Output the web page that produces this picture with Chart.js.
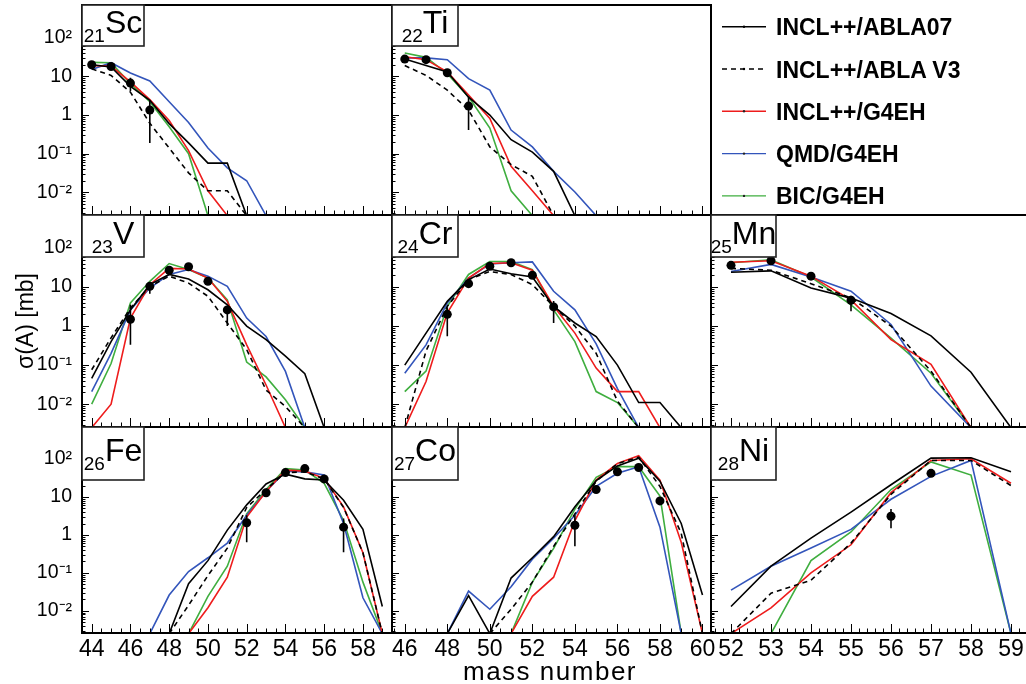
<!DOCTYPE html>
<html>
<head>
<meta charset="utf-8">
<title>Isotopic cross sections</title>
<script src="https://cdn.jsdelivr.net/npm/chart.js@4.4.1/dist/chart.umd.min.js"></script>
<style>
  body { margin: 0; width: 1026px; height: 684px; overflow: hidden; background: #fff; position: relative; }
  canvas { position: absolute; left: 0; top: -40px; }
  #overlay { position: absolute; left: 0; top: 0; pointer-events: none; }
</style>
</head>
<body>
<svg id="overlay" width="1026" height="684" xmlns="http://www.w3.org/2000/svg"></svg>
<script>
// model names (legend order)
const modelNames = ['INCL++/ABLA07', 'INCL++/ABLA V3', 'INCL++/G4EH', 'QMD/G4EH', 'BIC/G4EH'];

// axis ticks
const yTickValues = [0.01, 0.1, 1, 10, 100];
const yTickLabels = ['10⁻²', '10⁻¹', '1', '10', '10²'];
const xTicksCol1 = [44, 46, 48, 50, 52, 54, 56, 58];
const xTicksCol2 = [46, 48, 50, 52, 54, 56, 58, 60];
const xTicksCol3 = [52, 53, 54, 55, 56, 57, 58, 59];

// 21Sc
const scMass    = [44, 45, 46, 47, 48, 49, 50, 51, 52, 53];
const scAbla07  = [20, 17.5, 5.5, 2.4, 0.6, 0.19, 0.057, 0.057, 0.0025, null];
const scAblaV3  = [15.7, 10.6, 3.9, 0.61, 0.14, 0.032, 0.011, 0.011, 0.0025, null];
const scInclG4  = [19, 18.5, 7.2, 2.5, 0.72, 0.12, 0.011, 0.0025, null, null];
const scQmdG4   = [15, 22.5, 12.2, 7.6, 2.2, 0.64, 0.14, 0.043, 0.02, 0.0025];
const scBicG4   = [23, 22.5, 6.5, 2.2, 0.5, 0.1, 0.0025, null, null, null];
const scExpMass = [44, 45, 46, 47];
const scExp     = [20, 18, 6.7, 1.34];
const scExpLo   = [null, null, 4.2, 0.19];
const scExpHi   = [null, null, 9.2, 2.4];

// 22Ti
const tiMass    = [46, 47, 48, 49, 50, 51, 52, 53, 54, 55];
const tiAbla07  = [28, 19, 13, 2.9, 1.0, 0.23, 0.11, 0.035, 0.0025, null];
const tiAblaV3  = [19, 10.6, 4.4, 1.34, 0.15, 0.052, 0.026, 0.0025, null, null];
const tiInclG4  = [32, 27, 13, 3.3, 0.82, 0.047, 0.011, 0.0025, null, null];
const tiQmdG4   = [30, 30, 27, 8.7, 4.4, 0.41, 0.15, 0.035, 0.0102, 0.0025];
const tiBicG4   = [40, 31, 11.7, 2.95, 0.46, 0.011, 0.0025, null, null, null];
const tiExpMass = [46, 47, 48, 49];
const tiExp     = [28, 27, 12.4, 1.7];
const tiExpLo   = [null, null, null, 0.41];
const tiExpHi   = [null, null, null, 3.0];

// 23V
const vMass     = [44, 45, 46, 47, 48, 49, 50, 51, 52, 53, 54, 55, 56];
const vAbla07   = [0.046, 0.4, 2.6, 11.5, 21, 16, 8.5, 3.5, 1.0, 0.45, 0.17, 0.06, 0.0025];
const vAblaV3   = [0.076, 0.5, 2.9, 10.4, 19, 12.6, 5.8, 1.2, 0.25, 0.023, 0.0087, 0.0025, null];
const vInclG4   = [0.0025, 0.01, 1.6, 11.5, 30, 29, 17, 4.3, 0.33, 0.031, 0.0025, null, null];
const vQmdG4    = [0.021, 0.2, 2.6, 9.4, 21, 28, 19, 10.4, 1.6, 0.54, 0.069, 0.0025, null];
const vBicG4    = [0.01, 0.11, 3.9, 14, 40, 28, 17, 4.7, 0.12, 0.05, 0.013, 0.0025, null];
const vExpMass  = [46, 47, 48, 49, 50, 51];
const vExp      = [1.5, 10.4, 27, 33, 14, 2.6];
const vExpLo    = [0.33, 6.7, null, null, null, 1.0];
const vExpHi    = [3.5, 12.9, null, null, null, 3.3];

// 24Cr
const crMass    = [46, 47, 48, 49, 50, 51, 52, 53, 54, 55, 56, 57, 58, 59];
const crAbla07  = [0.1, 0.66, 4.3, 15.5, 29, 22, 18, 3.2, 1.2, 0.54, 0.1, 0.011, 0.011, 0.0025];
const crAblaV3  = [0.0025, 0.23, 3.2, 15.5, 25, 21, 11.5, 3.2, 1.0, 0.2, 0.012, 0.0025, null, null];
const crInclG4  = [0.0025, 0.038, 2.2, 17, 40, 42, 27, 3.2, 0.66, 0.084, 0.021, 0.021, 0.0025, null];
const crQmdG4   = [0.062, 0.33, 3.9, 17, 39, 42, 44, 7.8, 2.6, 0.35, 0.025, 0.0025, null, null];
const crBicG4   = [0.021, 0.07, 3.2, 21, 45, 45, 28, 2.6, 0.4, 0.021, 0.011, 0.0025, null, null];
const crExpMass = [48, 49, 50, 51, 52, 53];
const crExp     = [2.0, 12.2, 34, 42, 20, 3.1];
const crExpLo   = [0.55, null, null, null, null, 1.2];
const crExpHi   = [3.0, null, null, null, null, 4.4];

// 25Mn
const mnMass    = [52, 53, 54, 55, 56, 57, 58, 59];
const mnAbla07  = [24, 26, 9.4, 5.2, 2.1, 0.56, 0.066, 0.0025];
const mnAblaV3  = [30, 27, 12.2, 5.3, 1.0, 0.07, 0.0025, null];
const mnInclG4  = [43, 47, 19, 4.7, 0.45, 0.105, 0.0025, null];
const mnQmdG4   = [25, 38, 18, 7.8, 1.1, 0.029, 0.0025, null];
const mnBicG4   = [42, 50, 18, 3.5, 0.49, 0.062, 0.0025, null];
const mnExpMass = [52, 53, 54, 55];
const mnExp     = [36, 47, 19, 4.6];
const mnExpLo   = [null, null, null, 2.4];
const mnExpHi   = [null, null, null, 6.0];

// 26Fe
const feMass    = [47, 48, 49, 50, 51, 52, 53, 54, 55, 56, 57, 58, 59];
const feAbla07  = [null, 0.0025, 0.052, 0.21, 1.34, 6.2, 22, 40, 30, 28, 8.2, 1.4, 0.013];
const feAblaV3  = [null, 0.0025, 0.014, 0.085, 0.45, 5.3, 15.7, 44, 46, 30, 5.3, 0.34, 0.0025];
const feInclG4  = [null, null, 0.0025, 0.012, 0.077, 2.95, 14, 51, 48, 31, 5.5, 0.34, 0.0025];
const feQmdG4   = [0.0025, 0.026, 0.108, 0.25, 0.61, 3.3, 14, 48, 46, 38, 2.0, 0.022, 0.0025];
const feBicG4   = [null, null, 0.0025, 0.024, 0.15, 3.6, 15.7, 56, 51, 23, 2.4, 0.057, 0.0025];
const feExpMass = [52, 53, 54, 55, 56, 57];
const feExp     = [2.1, 12.9, 44, 56, 30, 1.6];
const feExpLo   = [0.64, null, null, null, null, 0.35];
const feExpHi   = [3.3, null, null, null, null, 2.7];

// 27Co
const coMass    = [48, 49, 50, 51, 52, 53, 54, 55, 56, 57, 58, 59, 60];
const coAbla07  = [0.0025, 0.025, 0.0025, 0.073, 0.25, 0.9, 5.5, 27, 66, 105, 26, 2.0, 0.026];
const coAblaV3  = [null, null, 0.0025, 0.011, 0.057, 0.5, 3.6, 26, 76, 112, 19, 1.1, 0.0025];
const coInclG4  = [null, null, null, 0.0025, 0.024, 0.077, 2.4, 28, 76, 123, 28, 0.64, 0.0025];
const coQmdG4   = [0.0025, 0.033, 0.011, 0.043, 0.23, 0.82, 3.3, 19, 42, 63, 1.6, 0.0025, null];
const coBicG4   = [null, null, null, 0.0025, 0.057, 0.44, 4.8, 33, 63, 63, 10.6, 0.0025, null];
const coExpMass = [54, 55, 56, 57, 58];
const coExp     = [1.8, 15.7, 46, 60, 7.9];
const coExpLo   = [0.5, null, null, null, null];
const coExpHi   = [3.3, null, null, null, null];

// 28Ni
const niMass    = [52, 53, 54, 55, 56, 57, 58, 59];
const niAbla07  = [0.013, 0.15, 0.82, 4.0, 21, 106, 108, 46];
const niAblaV3  = [0.0025, 0.029, 0.064, 0.61, 11.7, 92, 92, 20];
const niInclG4  = [0.0025, 0.012, 0.1, 0.55, 13, 92, 102, 23];
const niQmdG4   = [0.035, 0.15, 0.45, 1.4, 8.7, 35, 92, 0.0025];
const niBicG4   = [null, 0.0025, 0.21, 1.2, 15.7, 84, 38, 0.0025];
const niExpMass = [56, 57];
const niExp     = [3.1, 42];
const niExpLo   = [1.5, null];
const niExpHi   = [4.8, null];

// layout of the 3x3 pad grid (pixels)
const colLeft = [82, 392, 711];
const colRight = [392, 711, 1031];
const rowTop = [5, 215, 427];
const rowBottom = [215, 427, 633];
const colXMin = [43.5, 45.4, 51.5];
const colXMax = [59.5, 60.4, 59.5];
const colXTicks = [xTicksCol1, xTicksCol2, xTicksCol3];
const colMinorStep = [0.5, 0.5, 0.2];
const Y_MIN = 0.0026, Y_MAX = 700;

const modelStyles = [
  { color: '#000000', width: 1.6, dash: [] },
  { color: '#000000', width: 1.6, dash: [5, 4] },
  { color: '#ee1c1c', width: 1.6, dash: [] },
  { color: '#3355bb', width: 1.6, dash: [] },
  { color: '#3fae3f', width: 1.6, dash: [] }
];

const panels = [
  { z: 21, sym: 'Sc', row: 0, col: 0, mass: scMass, lines: [scAbla07, scAblaV3, scInclG4, scQmdG4, scBicG4], expA: scExpMass, expY: scExp, lo: scExpLo, hi: scExpHi },
  { z: 22, sym: 'Ti', row: 0, col: 1, mass: tiMass, lines: [tiAbla07, tiAblaV3, tiInclG4, tiQmdG4, tiBicG4], expA: tiExpMass, expY: tiExp, lo: tiExpLo, hi: tiExpHi },
  { z: 23, sym: 'V', row: 1, col: 0, mass: vMass, lines: [vAbla07, vAblaV3, vInclG4, vQmdG4, vBicG4], expA: vExpMass, expY: vExp, lo: vExpLo, hi: vExpHi },
  { z: 24, sym: 'Cr', row: 1, col: 1, mass: crMass, lines: [crAbla07, crAblaV3, crInclG4, crQmdG4, crBicG4], expA: crExpMass, expY: crExp, lo: crExpLo, hi: crExpHi },
  { z: 25, sym: 'Mn', row: 1, col: 2, mass: mnMass, lines: [mnAbla07, mnAblaV3, mnInclG4, mnQmdG4, mnBicG4], expA: mnExpMass, expY: mnExp, lo: mnExpLo, hi: mnExpHi },
  { z: 26, sym: 'Fe', row: 2, col: 0, mass: feMass, lines: [feAbla07, feAblaV3, feInclG4, feQmdG4, feBicG4], expA: feExpMass, expY: feExp, lo: feExpLo, hi: feExpHi },
  { z: 27, sym: 'Co', row: 2, col: 1, mass: coMass, lines: [coAbla07, coAblaV3, coInclG4, coQmdG4, coBicG4], expA: coExpMass, expY: coExp, lo: coExpLo, hi: coExpHi },
  { z: 28, sym: 'Ni', row: 2, col: 2, mass: niMass, lines: [niAbla07, niAblaV3, niInclG4, niQmdG4, niBicG4], expA: niExpMass, expY: niExp, lo: niExpLo, hi: niExpHi }
];

const FONT = "'Liberation Sans', Arial, Helvetica, sans-serif";
const overlay = document.getElementById('overlay');

// frame and inward ROOT-style tick marks
const framePlugin = {
  id: 'frame',
  afterDatasetsDraw(chart, args, opts) {
    const { ctx, chartArea: a } = chart;
    const x = chart.scales.x, y = chart.scales.y;
    ctx.save();
    ctx.strokeStyle = '#000';
    ctx.lineWidth = 1;
    ctx.beginPath();
    const n0 = Math.ceil(x.min / opts.step - 1e-6), n1 = Math.floor(x.max / opts.step + 1e-6);
    for (let n = n0; n <= n1; n++) {
      const v = n * opts.step;
      const px = Math.round(x.getPixelForValue(v)) + 0.5;
      const major = opts.major.some((m) => Math.abs(m - v) < 1e-6);
      ctx.moveTo(px, a.bottom);
      ctx.lineTo(px, a.bottom - (major ? 9 : 4.5));
    }
    for (let e = -3; e <= 3; e++) {
      for (let m = 1; m <= 9; m++) {
        const v = m * Math.pow(10, e);
        if (v < y.min || v > y.max) continue;
        const py = Math.round(y.getPixelForValue(v)) + 0.5;
        ctx.moveTo(a.left, py);
        ctx.lineTo(a.left + (m === 1 ? 7 : 3.5), py);
      }
    }
    ctx.stroke();
    ctx.lineWidth = 2;
    ctx.strokeRect(a.left, a.top, a.right - a.left, a.bottom - a.top);
    ctx.restore();
  }
};

// canvases are shifted up by OFF so that no label overflow can push the plot area
const OFF = 40;
const CW = 1040, CH = 684 + OFF;

panels.forEach((p) => {
  const cv = document.createElement('canvas');
  cv.width = CW;
  cv.height = CH;
  document.body.insertBefore(cv, overlay);

  const yAxisW = p.col === 0 ? colLeft[0] : 0;
  const xAxisH = p.row === 2 ? 684 - rowBottom[2] : 0;

  const datasets = [];
  datasets.push({
    data: p.expA.map((a, i) => ({ x: a, y: p.expY[i] })),
    showLine: false,
    pointRadius: 4.5,
    pointBackgroundColor: '#000',
    pointBorderWidth: 0,
    borderColor: '#000'
  });
  const bars = [];
  p.expA.forEach((a, i) => {
    if (p.lo[i] != null) bars.push({ x: a, y: p.lo[i] }, { x: a, y: p.hi[i] }, { x: a, y: null });
  });
  datasets.push({ data: bars, borderColor: '#000', borderWidth: 1.6, pointRadius: 0, spanGaps: false });
  modelStyles.forEach((st, k) => {
    datasets.push({
      label: modelNames[k],
      data: p.mass.map((a, i) => ({ x: a, y: p.lines[k][i] })),
      borderColor: st.color,
      borderWidth: st.width,
      borderDash: st.dash,
      pointRadius: 0,
      tension: 0,
      spanGaps: false
    });
  });

  new Chart(cv, {
    type: 'line',
    data: { datasets },
    options: {
      responsive: false,
      animation: false,
      devicePixelRatio: 1,
      events: [],
      layout: {
        autoPadding: false,
        padding: {
          left: colLeft[p.col] - yAxisW,
          right: CW - colRight[p.col],
          top: rowTop[p.row] + OFF,
          bottom: 684 - rowBottom[p.row] - xAxisH
        }
      },
      plugins: {
        legend: { display: false },
        tooltip: { enabled: false },
        frame: { step: colMinorStep[p.col], major: colXTicks[p.col] }
      },
      scales: {
        x: {
          type: 'linear',
          position: 'bottom',
          min: colXMin[p.col],
          max: colXMax[p.col],
          afterBuildTicks: (s) => { s.ticks = colXTicks[p.col].map((v) => ({ value: v })); },
          afterFit: (s) => { s.height = xAxisH; },
          grid: { display: false, drawTicks: false },
          border: { display: false },
          ticks: {
            display: p.row === 2,
            autoSkip: false,
            maxRotation: 0,
            padding: 3,
            color: '#000',
            font: { family: FONT, size: 23 },
            callback: (v) => String(v)
          }
        },
        y: {
          type: 'logarithmic',
          position: 'left',
          min: Y_MIN,
          max: Y_MAX,
          afterBuildTicks: (s) => { s.ticks = yTickValues.map((v) => ({ value: v })); },
          afterFit: (s) => { s.width = yAxisW; },
          grid: { display: false, drawTicks: false },
          border: { display: false },
          ticks: {
            display: p.col === 0,
            autoSkip: false,
            padding: 10,
            color: '#000',
            font: { family: FONT, size: 19.5 },
            callback: (v) => yTickLabels[yTickValues.indexOf(v)]
          }
        }
      }
    },
    plugins: [framePlugin]
  });
});

// element label boxes, legend and axis titles
const boxW = [62, 66, 65];
const boxH = [41, 42, 53];
const symBase = [33, 244, 461];
let svg = '';
panels.forEach((p) => {
  const x = colLeft[p.col], y = rowTop[p.row], w = boxW[p.col], h = boxH[p.row];
  svg += `<rect x="${x}" y="${y}" width="${w}" height="${h}" fill="#fff" stroke="#222" stroke-width="1.6"/>`;
  svg += `<text x="${x + w / 2}" y="${symBase[p.row]}" text-anchor="middle" font-family="${FONT}" fill="#000">` +
    `<tspan font-size="19" dy="9">${p.z}</tspan><tspan font-size="32" dy="-9">${p.sym}</tspan></text>`;
});
modelNames.forEach((name, k) => {
  const ly = 26.7 + k * 42.3;
  const st = modelStyles[k];
  svg += `<line x1="722" y1="${ly}" x2="766" y2="${ly}" stroke="${st.color}" stroke-width="1.4"` +
    (st.dash.length ? ` stroke-dasharray="${st.dash.join(' ')}"` : '') + '/>';
  svg += `<circle cx="744" cy="${ly}" r="1.2" fill="${st.color === '#000000' ? '#000' : '#222'}"/>`;
  svg += `<text x="776" y="${ly + 8.5}" font-family="${FONT}" font-weight="bold" font-size="23" fill="#000">${name}</text>`;
});
svg += `<text transform="translate(33,321) rotate(-90)" text-anchor="middle" font-family="${FONT}" font-size="23" fill="#000">σ(A) [mb]</text>`;
svg += `<text x="550" y="680" text-anchor="middle" font-family="${FONT}" font-size="26" letter-spacing="1.5" fill="#000">mass number</text>`;
overlay.innerHTML = svg;
</script>
</body>
</html>
